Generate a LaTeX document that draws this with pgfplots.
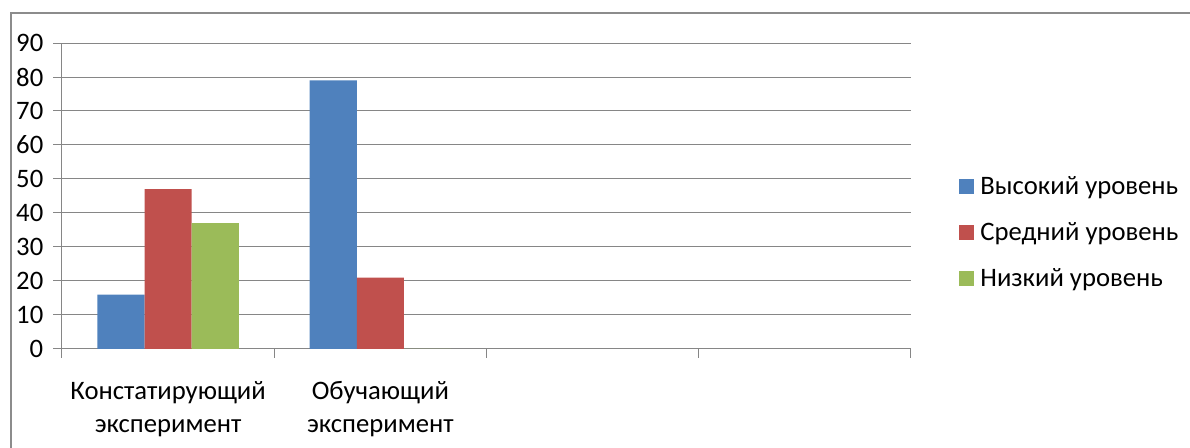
\documentclass[border=0pt]{standalone}
\usepackage{fontspec}
\setmainfont{Carlito}
\usepackage{pgfplots}
\pgfplotsset{compat=1.18}
\definecolor{cblue}{HTML}{4F81BD}
\definecolor{cred}{HTML}{C0504D}
\definecolor{cgreen}{HTML}{9BBB59}
\definecolor{cgrid}{HTML}{868686}
\definecolor{cframe}{HTML}{8C8C8C}
\begin{document}
\begin{tikzpicture}
\draw[cframe, line width=1.5pt] (7.875pt,-5pt) -- (7.875pt,326.25pt) -- (900pt,326.25pt);
\begin{axis}[
  at={(126.075pt,74.25pt)}, anchor=origin,
  scale only axis, width=636.75pt, height=229.5pt,
  xmin=-0.5, xmax=3.5, ymin=0, ymax=90,
  axis x line*=bottom, axis y line*=left,
  axis line style={cgrid, line width=0.75pt},
  tick align=outside,
  major tick length=6.5pt,
  tick style={cgrid, line width=0.75pt},
  ytick={0,10,...,90},
  ymajorgrids,
  grid style={cgrid, line width=0.75pt},
  xtick={-0.5,0.5,1.5,2.5,3.5},
  xticklabels={},
  extra x ticks={0,1},
  extra x tick labels={Констатирующий\\эксперимент,Обучающий\\эксперимент},
  extra x tick style={major tick length=0pt, tick label style={align=center, yshift=-21pt, font=\fontsize{20}{24.75}\selectfont}},
  /pgf/number format/assume math mode=true,
  yticklabel style={font=\fontsize{20}{22}\selectfont, xshift=-4pt},
  legend style={at={(1.052,0.382)}, anchor=west, draw=none, fill=none,
    font=\fontsize{20}{22}\selectfont, row sep=15.5pt,
    nodes={inner xsep=4.5pt}},
  legend cell align=left,
  legend image code/.code={\fill[#1] (0pt,-5.6pt) rectangle (11.25pt,5.6pt);},
]
\addplot[ybar, bar width=0.222, bar shift=-0.222, fill=cblue, draw=none] coordinates {(0,16) (1,79)};
\addplot[ybar, bar width=0.222, bar shift=0, fill=cred, draw=none] coordinates {(0,47) (1,21)};
\addplot[ybar, bar width=0.222, bar shift=0.222, fill=cgreen, draw=none] coordinates {(0,37) (1,0)};
\legend{Высокий уровень,Средний уровень,Низкий уровень}
\end{axis}
\pgfresetboundingbox
\useasboundingbox (0pt,0pt) rectangle (892.5pt,336pt);
\end{tikzpicture}
\end{document}
